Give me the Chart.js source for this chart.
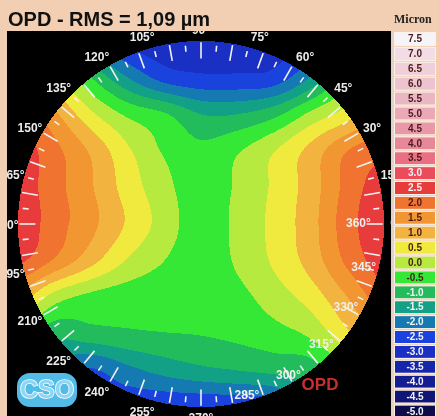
<!DOCTYPE html>
<html>
<head>
<meta charset="utf-8">
<script src="https://cdn.jsdelivr.net/npm/chart.js@4"></script>
<style>
  html, body { margin: 0; padding: 0; background: #f2cfb3; }
  #wrap { position: relative; width: 439px; height: 416px; overflow: hidden; }
  #c { position: absolute; left: 0; top: 0; }
  #title { position: absolute; left: 8px; top: 8px; font: bold 20px "Liberation Sans", Arial, sans-serif; color: #111; white-space: nowrap; }
  #unit { position: absolute; left: 394px; top: 12px; font: bold 12px "Liberation Serif", serif; color: #222; white-space: nowrap; }
</style>
</head>
<body>
<div id="wrap">
  <canvas id="c" width="439" height="416"></canvas>
  <div id="title"></div>
  <div id="unit"></div>
</div>
<script>
// ---- texts ----
const titleText = 'OPD - RMS = 1,09 µm';
const unitText = 'Micron';
const mapTag = 'OPD';
const logoText = 'CSO';

// ---- wavefront samples (µm) on a regular grid over the unit pupil ----
const gridX = [-1, -0.8, -0.6, -0.4, -0.2, 0, 0.2, 0.4, 0.6, 0.8, 1];
const gridY = [1, 0.8, 0.6, 0.4, 0.2, 0, -0.2, -0.4, -0.6, -0.8, -1];
const opdRowP10 = [0.6, -0.3, -1.8, -2.6, -2.8, -2.85, -2.82, -2.7, -2.4, -1.2, -0.1];
const opdRowP08 = [1.6, 0.6, -0.5, -1.5, -2.2, -2.4, -2.4, -2.3, -1.45, -0.2, 0.6];
const opdRowP06 = [2.4, 1.6, 0.6, -0.1, -0.45, -1.0, -1.0, -0.65, 0.12, 0.75, 1.7];
const opdRowP04 = [2.8, 2.15, 1.42, 0.58, -0.06, -0.38, -0.05, 0.48, 1.17, 2.0, 2.35];
const opdRowP02 = [2.8, 2.19, 1.55, 0.78, 0.16, -0.3, 0.075, 0.59, 1.25, 2.17, 2.8];
const opdRow00  = [2.85, 2.23, 1.63, 0.93, 0.28, -0.28, 0.13, 0.64, 1.31, 2.28, 2.9];
const opdRowM02 = [2.6, 1.93, 1.17, 0.45, 0.0, -0.3, 0.075, 0.58, 1.21, 2.11, 2.75];
const opdRowM04 = [1.3, 0.26, -0.15, -0.3, -0.35, -0.35, -0.15, 0.24, 0.72, 1.5, 2.3];
const opdRowM06 = [-0.2, -0.85, -0.68, -0.58, -0.52, -0.48, -0.38, -0.2, 0.11, 0.9, 1.6];
const opdRowM08 = [-1.2, -1.7, -2.05, -1.64, -1.34, -1.12, -1.0, -0.88, -0.75, 0.0, 0.8];
const opdRowM10 = [-1.5, -1.95, -2.2, -2.35, -2.38, -2.4, -2.35, -2.2, -1.0, -0.6, -0.1];

// ---- colour scale (band lower bounds, µm) ----
const bandLevels = [7.5, 7.0, 6.5, 6.0, 5.5, 5.0, 4.5, 4.0, 3.5, 3.0, 2.5, 2.0, 1.5, 1.0, 0.5, 0.0,
                    -0.5, -1.0, -1.5, -2.0, -2.5, -3.0, -3.5, -4.0, -4.5, -5.0];
const bandColors = ['#f6f4f8', '#f2dde6', '#efcfd9', '#edc3cf', '#ebb6c4', '#eaa8b8', '#e898a9', '#e7889a',
                    '#e97083', '#eb4b5b', '#e83c3c', '#f07430', '#f29632', '#f2b43e', '#f0ea3e', '#b6ea3e',
                    '#36e836', '#22bc5c', '#12a086', '#167ab2', '#1a42dc', '#1a30c4', '#1626aa', '#121e92',
                    '#101676', '#0c0c4a'];

// ---- angular scale labels (degrees) ----
const outerAngles = [0, 15, 30, 45, 60, 75, 90, 105, 120, 135, 150, 165, 180, 195, 210, 225, 240, 255, 270];
const innerAngles = [285, 300, 315, 330, 345, 360];
const tickStep = 5;

// ---- layout / style ----
const panel = { left: 7, top: 31, right: 391, bottom: 416 };
const legendBox = { x: 395, w: 40, top: 33, pitch: 14.9, h: 12 };
const outerLabelR = 1.065;
const innerLabelR = [0.97, 0.955, 0.93, 0.915, 0.92, 0.86];

document.getElementById('title').textContent = titleText;
document.getElementById('unit').textContent = unitText;

const opdRows = [opdRowP10, opdRowP08, opdRowP06, opdRowP04, opdRowP02, opdRow00,
                 opdRowM02, opdRowM04, opdRowM06, opdRowM08, opdRowM10];

function hexRgb(h) { return [parseInt(h.slice(1, 3), 16), parseInt(h.slice(3, 5), 16), parseInt(h.slice(5, 7), 16)]; }
const bandRgb = bandColors.map(hexRgb);

function bandIndex(v) {
  const lvl = Math.floor(v / 0.5 + 1e-9) * 0.5;
  const k = Math.round((bandLevels[0] - lvl) / 0.5);
  return Math.max(0, Math.min(bandLevels.length - 1, k));
}

// Catmull-Rom patch over the sample grid
function cr(p0, p1, p2, p3, t) {
  return 0.5 * (2 * p1 + (-p0 + p2) * t + (2 * p0 - 5 * p1 + 4 * p2 - p3) * t * t + (-p0 + 3 * p1 - 3 * p2 + p3) * t * t * t);
}
function sampleOpd(X, Y) {
  const n = gridX.length, m = gridY.length;
  const gx = (X - gridX[0]) / (gridX[1] - gridX[0]);
  const gy = (gridY[0] - Y) / (gridY[0] - gridY[1]);
  const i = Math.max(0, Math.min(n - 2, Math.floor(gx)));
  const j = Math.max(0, Math.min(m - 2, Math.floor(gy)));
  const t = gx - i, s = gy - j;
  const ci = k => Math.max(0, Math.min(n - 1, k));
  const cj = k => Math.max(0, Math.min(m - 1, k));
  const rowVal = r => { const row = opdRows[cj(r)]; return cr(row[ci(i - 1)], row[ci(i)], row[ci(i + 1)], row[ci(i + 2)], t); };
  return cr(rowVal(j - 1), rowVal(j), rowVal(j + 1), rowVal(j + 2), s);
}

const gridPoints = [];
gridY.forEach((yv, r) => gridX.forEach((xv, c) => gridPoints.push({ x: xv, y: yv, v: opdRows[r][c] })));

const opdMapPlugin = {
  id: 'opdMap',
  beforeDraw(chart) {
    const ctx = chart.ctx;
    ctx.save();
    ctx.fillStyle = '#000';
    ctx.fillRect(panel.left, panel.top, panel.right - panel.left, panel.bottom - panel.top);
    ctx.restore();
  },
  beforeDatasetsDraw(chart) {
    const { ctx, chartArea: a, scales: { x, y } } = chart;
    const w = Math.round(a.right - a.left), h = Math.round(a.bottom - a.top);
    const off = document.createElement('canvas');
    off.width = w; off.height = h;
    const octx = off.getContext('2d');
    const img = octx.createImageData(w, h);
    for (let j = 0; j < h; j++) {
      const Y = y.getValueForPixel(a.top + j + 0.5);
      for (let i = 0; i < w; i++) {
        const X = x.getValueForPixel(a.left + i + 0.5);
        if (X * X + Y * Y > 1) continue;
        const c = bandRgb[bandIndex(sampleOpd(X, Y))];
        const p = (j * w + i) * 4;
        img.data[p] = c[0]; img.data[p + 1] = c[1]; img.data[p + 2] = c[2]; img.data[p + 3] = 255;
      }
    }
    octx.putImageData(img, 0, 0);
    ctx.drawImage(off, a.left, a.top);
  },
  afterDatasetsDraw(chart) {
    const { ctx, scales: { x, y } } = chart;
    const P = (r, deg) => {
      const t = deg * Math.PI / 180;
      return [x.getPixelForValue(r * Math.cos(t)), y.getPixelForValue(r * Math.sin(t))];
    };
    ctx.save();
    ctx.beginPath();
    ctx.rect(panel.left, panel.top, panel.right - panel.left, panel.bottom - panel.top);
    ctx.clip();
    // radial ticks
    ctx.strokeStyle = '#f2f2f2';
    ctx.lineWidth = 1.6;
    for (let d = 0; d < 360; d += tickStep) {
      const major = d % 10 === 0;
      const [x1, y1] = P(major ? 0.905 : 0.945, d);
      const [x2, y2] = P(major ? 0.993 : 0.978, d);
      ctx.beginPath(); ctx.moveTo(x1, y1); ctx.lineTo(x2, y2); ctx.stroke();
    }
    // angle labels
    ctx.textAlign = 'center';
    ctx.textBaseline = 'middle';
    ctx.fillStyle = '#ececec';
    ctx.font = 'bold 12px "Liberation Sans", Arial, sans-serif';
    outerAngles.forEach(d => {
      const t = d * Math.PI / 180;
      const [px, py] = P(outerLabelR, d);
      const spread = 9 * Math.sign(Math.round(Math.cos(t) * 1e6)) * Math.sin(t) * Math.sin(t);
      ctx.fillText(d + '°', px + spread, py + (Math.sin(t) > 0 ? 2 : 0));
    });
    ctx.fillStyle = '#eeeeee';
    innerAngles.forEach((d, k) => { const [px, py] = P(innerLabelR[k], d); ctx.fillText(d + '°', px, py); });
    // map tag
    ctx.font = 'bold 17px "Liberation Sans", Arial, sans-serif';
    ctx.fillStyle = '#c8302c';
    ctx.fillText(mapTag, 320, 385);
    // logo
    ctx.fillStyle = '#52bce6';
    ctx.beginPath();
    if (ctx.roundRect) ctx.roundRect(17, 373, 60, 34, 13); else ctx.rect(17, 373, 60, 34);
    ctx.fill();
    ctx.font = 'bold 25px "Liberation Sans", Arial, sans-serif';
    ctx.lineWidth = 1.6;
    ctx.strokeStyle = '#ffffff';
    ctx.fillStyle = '#8fd6f4';
    ctx.strokeText(logoText, 47, 391);
    ctx.fillText(logoText, 47, 391);
    ctx.restore();

    // colour legend
    ctx.save();
    ctx.strokeStyle = '#e4d2c8';
    ctx.lineWidth = 1;
    ctx.beginPath(); ctx.moveTo(392.5, 30); ctx.lineTo(392.5, 416); ctx.stroke();
    ctx.font = 'bold 10px "Liberation Sans", Arial, sans-serif';
    ctx.textAlign = 'center';
    ctx.textBaseline = 'middle';
    bandLevels.forEach((lvl, k) => {
      const top = legendBox.top + k * legendBox.pitch;
      ctx.fillStyle = bandColors[k];
      ctx.fillRect(legendBox.x, top, legendBox.w, legendBox.h);
      ctx.strokeStyle = 'rgba(255,255,255,0.7)';
      ctx.strokeRect(legendBox.x - 0.5, top - 0.5, legendBox.w + 1, legendBox.h + 1);
      const light = (lvl <= -1.0) || lvl === 2.5 || lvl === 3.0;
      ctx.fillStyle = light ? '#f4f4f4' : '#4a1c1c';
      ctx.fillText(lvl.toFixed(1), legendBox.x + legendBox.w / 2, top + legendBox.h / 2 + 0.5);
    });
    ctx.restore();
  }
};

new Chart(document.getElementById('c'), {
  type: 'scatter',
  data: { datasets: [{ data: gridPoints, pointRadius: 0, pointHoverRadius: 0 }] },
  options: {
    responsive: false,
    animation: false,
    devicePixelRatio: 1,
    layout: { padding: { left: 18, top: 41, right: 55, bottom: 9 } },
    plugins: { legend: { display: false }, title: { display: false }, tooltip: { enabled: false } },
    scales: {
      x: { type: 'linear', min: -1, max: 1, display: false },
      y: { type: 'linear', min: -1, max: 1, display: false }
    }
  },
  plugins: [opdMapPlugin]
});
</script>
</body>
</html>
